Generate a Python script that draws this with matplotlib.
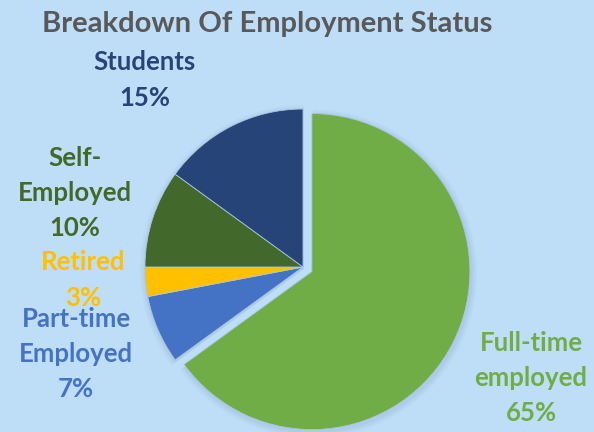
import matplotlib.pyplot as plt
import numpy as np

categories = ["Full-time\nemployed", "Part-time\nEmployed", "Retired", "Self-\nEmployed", "Students"]
shares = [65, 7, 3, 10, 15]
colors = ["#70AD47", "#4472C4", "#FFC000", "#43682B", "#264478"]

# label anchor points in pixels (x, y from top)
label_pos = [(531, 378), (76, 354), (83, 280), (75, 193), (145, 80)]

bg = "#BEDDF7"
fig = plt.figure(figsize=(5.94, 4.32), dpi=100, facecolor=bg)
ax = fig.add_axes([0, 0, 1, 1])
ax.set_facecolor(bg)

cx, cy, r = 303, 432 - 267, 158
explode = [10, 0, 0, 0, 0]  # offset in pixels (data units)

# soft shadow
for k, a in zip([6, 4, 2], [0.05, 0.07, 0.09]):
    ax.pie(shares, colors=["#6f8fb0"] * 5, explode=explode, startangle=90,
           counterclock=False, center=(cx + 1, cy - 2), radius=r + k,
           wedgeprops=dict(linewidth=0, alpha=a), frame=True)

ax.pie(shares, colors=colors, explode=explode, startangle=90, counterclock=False,
       center=(cx, cy), radius=r, frame=True,
       wedgeprops=dict(edgecolor="#a9c6e0", linewidth=0.6))

for lab, val, col, (x, y) in zip(categories, shares, colors, label_pos):
    ax.text(x, 432 - y, f"{lab}\n{val}%", ha="center", va="center", color=col,
            fontsize=18.5, fontweight="bold", family="Lato", linespacing=1.55)

ax.text(267, 432 - 24, "Breakdown Of Employment Status", ha="center", va="center",
        color="#595959", fontsize=21, fontweight="bold", family="Lato")

ax.set_xlim(0, 594)
ax.set_ylim(0, 432)
ax.set_aspect("equal")
ax.axis("off")

fig.savefig("out.png", dpi=100, facecolor=bg)
